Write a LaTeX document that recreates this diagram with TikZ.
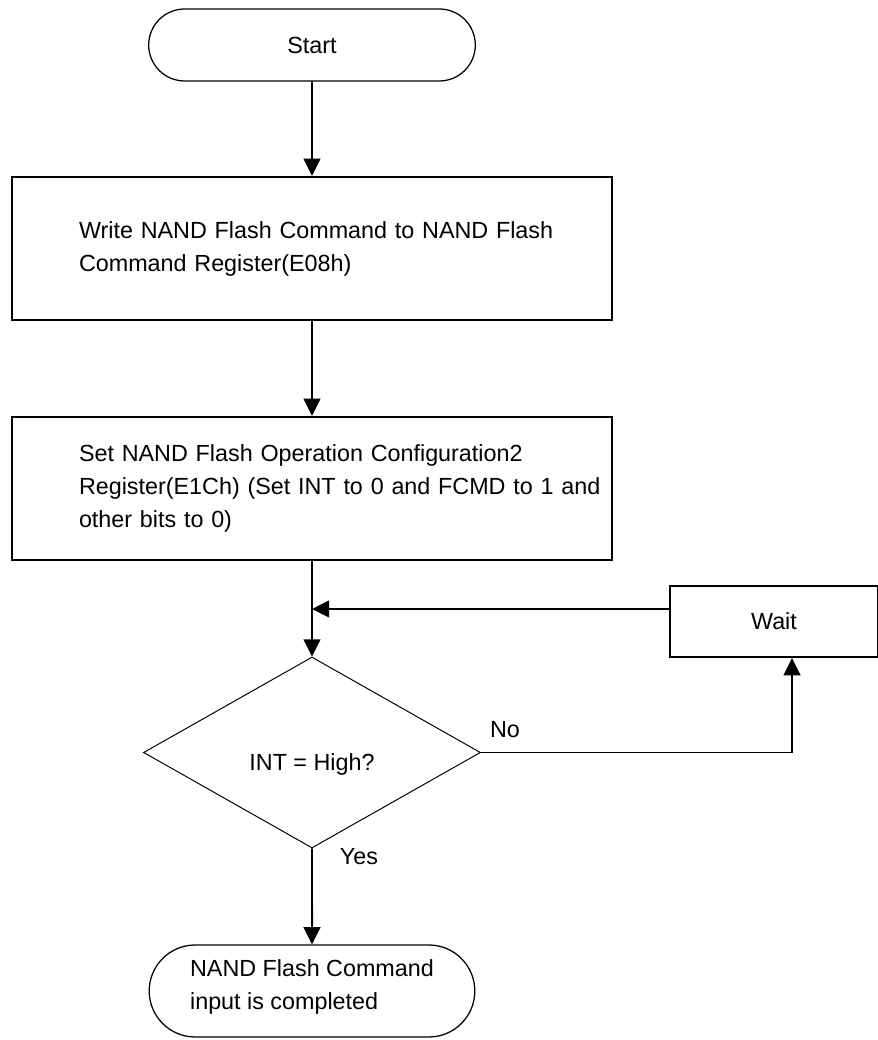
\documentclass[tikz,border=0pt]{standalone}
\usepackage{fontspec}
\setmainfont{Liberation Sans}
\usetikzlibrary{positioning,arrows.meta,shapes.geometric,shapes.misc,calc}

\begin{document}
\begin{tikzpicture}[
  font=\fontsize{16.6pt}{23.5pt}\selectfont,
  term/.style={draw,rounded rectangle,line width=0.9pt},
  stepbox/.style={draw,rectangle,line width=1.6pt,align=left,text width=11.65cm},
  flow/.style={line width=1.4pt,-{Triangle[length=0.43cm,width=0.42cm]}}
]
\useasboundingbox (0,0) rectangle (21.95,26);
% terminals
\node[term,minimum width=8.4cm,minimum height=1.8cm] (start) at (7.8,24.875) {Start};
\node[term,minimum width=8.375cm,minimum height=2.3cm,align=left,text depth=0.9em] (done) at (7.8,1.225)
  {NAND Flash Command\\input is completed};
% process boxes
\node[stepbox,minimum width=15cm,minimum height=3.575cm] (wrcmd) at (7.8,19.7875)
  {\mbox{Write NAND Flash Command to NAND Flash}\\Command Register(E08h)};
\node[stepbox,minimum width=15cm,minimum height=3.575cm] (setcfg) at (7.8,13.7875)
  {Set NAND Flash Operation Configuration2\\\mbox{Register(E1Ch) (Set INT to 0 and FCMD to 1 and}\\other bits to 0)};
\node[draw,rectangle,line width=1.6pt,minimum width=5.2cm,minimum height=1.775cm] (wait) at (19.35,10.4625) {Wait};
% decision
\node[draw,diamond,line width=0.7pt,inner sep=0pt,minimum width=8.425cm,minimum height=4.775cm,
  text height=2.5em,text depth=0pt] (inthigh) at (7.8,7.1875) {INT = High?};
\node (no) at (12.625,7.75) {No};
\node (yes) at (8.975,4.575) {Yes};
% connectors
\coordinate (join) at (7.8,10.775);
\draw[flow] (start) -- (wrcmd);
\draw[flow] (wrcmd) -- (setcfg);
\draw[flow] (setcfg) -- (inthigh);
\draw[flow] (wait.west |- join) -- (join);
\draw[flow] (inthigh.east) -| ([xshift=0.45cm]wait.south);
\draw[flow] (inthigh) -- (done);
\end{tikzpicture}
\end{document}
